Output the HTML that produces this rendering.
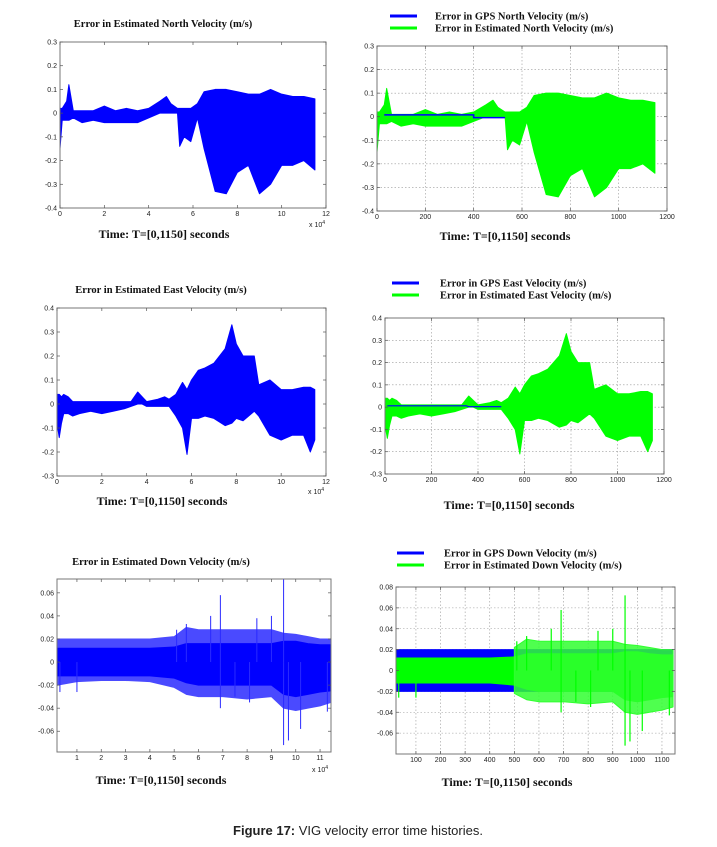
<!DOCTYPE html>
<html><head><meta charset="utf-8">
<style>
html,body{margin:0;padding:0;background:#fff;width:717px;height:847px;overflow:hidden}
svg{display:block}
.ttl{font-family:"Liberation Serif",serif;font-weight:bold;font-size:10.5px;fill:#111}
.xl{font-family:"Liberation Serif",serif;font-weight:bold;font-size:12px;fill:#111}
.tk{font-family:"Liberation Sans",sans-serif;font-size:7px;fill:#222}
.cap{font-family:"Liberation Sans",sans-serif;font-size:13px;fill:#222}
</style></head>
<body>
<svg id="fig" width="717" height="847" viewBox="0 0 717 847">
<text class="ttl" x="163" y="27" text-anchor="middle">Error in Estimated North Velocity (m/s)</text>
<text class="xl" x="164" y="238" text-anchor="middle">Time: T=[0,1150] seconds</text>
<text class="xl" x="505" y="240" text-anchor="middle">Time: T=[0,1150] seconds</text>
<text class="ttl" x="161" y="293" text-anchor="middle">Error in Estimated East Velocity (m/s)</text>
<text class="xl" x="162" y="505" text-anchor="middle">Time: T=[0,1150] seconds</text>
<text class="xl" x="509" y="509" text-anchor="middle">Time: T=[0,1150] seconds</text>
<text class="ttl" x="161" y="565" text-anchor="middle">Error in Estimated Down Velocity (m/s)</text>
<text class="xl" x="161" y="784" text-anchor="middle">Time: T=[0,1150] seconds</text>
<text class="xl" x="507" y="786" text-anchor="middle">Time: T=[0,1150] seconds</text>
<text class="cap" x="358" y="835" text-anchor="middle"><tspan font-weight="bold">Figure 17:</tspan> VIG velocity error time histories.</text>
</svg>
<script>
// ---- data ----
const northT = [0,0.1,0.3,0.4,0.6,1,1.5,2,2.5,3,3.5,4,4.5,4.8,5,5.3,5.4,5.6,5.9,6.2,6.5,7,7.5,8,8.5,9,9.5,10,10.5,11,11.5];
const northUpper = [0.02,0.02,0.05,0.12,0.01,0.01,0.01,0.03,0.01,0.02,0.01,0.02,0.05,0.07,0.04,0.02,0.02,0.02,0.02,0.04,0.09,0.1,0.1,0.09,0.08,0.08,0.1,0.08,0.07,0.07,0.06];
const northLower = [-0.15,-0.03,-0.03,-0.03,-0.02,-0.04,-0.03,-0.04,-0.04,-0.04,-0.04,-0.02,0,0,0,0,-0.14,-0.1,-0.12,-0.02,-0.15,-0.33,-0.34,-0.25,-0.22,-0.34,-0.3,-0.22,-0.22,-0.2,-0.24];
const northGpsT = [30,400,400,420,530];
const northGpsV = [0.008,0.008,-0.004,-0.004,-0.004];

const eastT = [0,0.1,0.2,0.3,0.5,0.7,1,1.5,2,2.5,3,3.3,3.6,3.8,4,4.5,4.8,5,5.3,5.6,5.8,6,6.3,6.6,7,7.5,7.8,8,8.3,8.8,9,9.5,10,10.5,11,11.3,11.5];
const eastUpper = [0.04,0.04,0.03,0.04,0.03,0.01,0.01,0.01,0.01,0.01,0.01,0.01,0.05,0.03,0.01,0.02,0.03,0.02,0.04,0.09,0.06,0.1,0.14,0.15,0.17,0.23,0.33,0.25,0.2,0.2,0.08,0.1,0.06,0.06,0.07,0.07,0.06];
const eastLower = [-0.08,-0.14,-0.08,-0.04,-0.04,-0.05,-0.04,-0.03,-0.04,-0.03,-0.02,-0.01,0,0,-0.01,-0.01,-0.01,-0.01,-0.05,-0.1,-0.21,-0.06,-0.06,-0.05,-0.06,-0.09,-0.08,-0.06,-0.07,-0.03,-0.05,-0.13,-0.15,-0.13,-0.13,-0.2,-0.15];
const eastGpsT = [10,350,360,500];
const eastGpsV = [0.006,0.006,0.002,0.002];

const downT = [0.2,1,2,3,4,5,5.5,6,7,8,9,9.5,10,10.5,11,11.45];
const downUpper = [0.02,0.02,0.02,0.02,0.02,0.022,0.03,0.028,0.028,0.028,0.028,0.025,0.024,0.022,0.02,0.02];
const downLower = [-0.02,-0.017,-0.016,-0.016,-0.017,-0.022,-0.028,-0.03,-0.03,-0.032,-0.03,-0.04,-0.042,-0.04,-0.038,-0.035];
const downCoreUpper = [0.012,0.012,0.012,0.012,0.012,0.013,0.016,0.016,0.016,0.016,0.016,0.018,0.018,0.016,0.015,0.015];
const downCoreLower = [-0.012,-0.012,-0.012,-0.012,-0.012,-0.014,-0.018,-0.02,-0.02,-0.02,-0.02,-0.028,-0.03,-0.028,-0.026,-0.025];
const downSpikeT = [0.3,1,5.1,5.5,6.5,6.9,6.9,7.5,8.1,8.4,9,9.5,9.5,9.7,10.2,11.3];
const downSpikeV = [-0.026,-0.026,0.028,0.033,0.04,0.058,-0.04,-0.03,-0.035,0.038,0.04,0.072,-0.072,-0.068,-0.058,-0.043];
const gpsDownUpper = 0.02;
const gpsDownLower = -0.02;

const tickNorthY = [-0.4,-0.3,-0.2,-0.1,0,0.1,0.2,0.3];
const tickEastY = [-0.3,-0.2,-0.1,0,0.1,0.2,0.3,0.4];
const tickDownY = [-0.06,-0.04,-0.02,0,0.02,0.04,0.06];
const tickDownY2 = [-0.06,-0.04,-0.02,0,0.02,0.04,0.06,0.08];
const tickX12 = [0,2,4,6,8,10,12];
const tickX1200 = [0,200,400,600,800,1000,1200];
const tickX11 = [1,2,3,4,5,6,7,8,9,10,11];
const tickX1100 = [100,200,300,400,500,600,700,800,900,1000,1100];

const NS = "http://www.w3.org/2000/svg";
const svg = document.getElementById('fig');
function mk(tag, attrs, parent){const e=document.createElementNS(NS,tag);for(const k in attrs)e.setAttribute(k,attrs[k]);(parent||svg).appendChild(e);return e;}
function lbl(v){return String(Math.round(v*1000)/1000);}

function panel(p){
  const g=mk('g',{});
  
  
  const sx=v=>p.x0+(v-p.xmin)/(p.xmax-p.xmin)*(p.x1-p.x0);
  const sy=v=>p.y1-(v-p.ymin)/(p.ymax-p.ymin)*(p.y1-p.y0);
  if(p.grid){
    p.xt.forEach(v=>{const x=sx(v);if(x>p.x0+1&&x<p.x1-1){const l=mk('line',{x1:x,x2:x,y1:p.y0,y2:p.y1,stroke:'#999','stroke-width':0.6,'stroke-dasharray':'1.5,2'},g);
      
      }});
    p.yt.forEach(v=>{const y=sy(v);if(y>p.y0+1&&y<p.y1-1){const l=mk('line',{x1:p.x0,x2:p.x1,y1:y,y2:y,stroke:'#999','stroke-width':0.6,'stroke-dasharray':'1.5,2'},g);
      
      }});
  }
  p.draw(g,sx,sy);
  const r=mk('rect',{x:p.x0,y:p.y0,width:p.x1-p.x0,height:p.y1-p.y0,fill:'none',stroke:'#777','stroke-width':1},g);
  
  
  p.xt.forEach(v=>{const x=sx(v);
    mk('line',{x1:x,x2:x,y1:p.y1,y2:p.y1-3,stroke:'#555','stroke-width':0.7},g);
    mk('line',{x1:x,x2:x,y1:p.y0,y2:p.y0+3,stroke:'#555','stroke-width':0.7},g);
    const t=mk('text',{x:x,y:p.y1+8,'text-anchor':'middle',class:'tk'},g);t.textContent=String(v);
    
    });
  p.yt.forEach(v=>{const y=sy(v);
    mk('line',{x1:p.x0,x2:p.x0+3,y1:y,y2:y,stroke:'#555','stroke-width':0.7},g);
    mk('line',{x1:p.x1,x2:p.x1-3,y1:y,y2:y,stroke:'#555','stroke-width':0.7},g);
    const t=mk('text',{x:p.x0-3,y:y+2.5,'text-anchor':'end',class:'tk'},g);t.textContent=lbl(v);
    
    });
  if(p.exp){const t=mk('text',{x:p.exp[0],y:p.exp[1],class:'tk'},g);t.innerHTML='x 10<tspan dy="-3" font-size="5">4</tspan>';
    
    }
}
function band(g,sx,sy,T,U,L,scale,color,name,op){
  let d='M'+T.map((t,i)=>sx(t*scale)+','+sy(U[i])).join(' L');
  for(let i=T.length-1;i>=0;i--)d+=' L'+sx(T[i]*scale)+','+sy(L[i]);
  const e=mk('path',{d:d+'Z',fill:color,stroke:color,'stroke-width':1,'fill-opacity':op||1,'stroke-linejoin':'round'},g);
  
  
}
function polyl(g,sx,sy,T,V,color,name,w){
  const e=mk('polyline',{points:T.map((t,i)=>sx(t)+','+sy(V[i])).join(' '),fill:'none',stroke:color,'stroke-width':w||1.5},g);
  
  
}
function spikes(g,sx,sy,scale,color,w){
  downSpikeT.forEach((t,i)=>{const e=mk('line',{x1:sx(t*scale),x2:sx(t*scale),y1:sy(0),y2:sy(downSpikeV[i]),stroke:color,'stroke-width':w||1},g);
    
    });
}
function legend(y,l1,l2,xl,xt){
  const a=mk('line',{x1:xl,x2:xl+27,y1:y,y2:y,stroke:'#0000ff','stroke-width':3});
  
  
  const b=mk('line',{x1:xl,x2:xl+27,y1:y+12,y2:y+12,stroke:'#00ff00','stroke-width':3});
  
  
  const t1=mk('text',{x:xt,y:y+3.5,class:'ttl'});t1.textContent=l1;
  
  
  const t2=mk('text',{x:xt,y:y+15.5,class:'ttl'});t2.textContent=l2;
  
  
}

panel({name:'north-velocity-chart',x0:60,x1:326,y0:42,y1:208,xmin:0,xmax:12,ymin:-0.4,ymax:0.3,xt:tickX12,yt:tickNorthY,exp:[309,227],
  draw:(g,sx,sy)=>band(g,sx,sy,northT,northUpper,northLower,1,'#0000ff','north-error-series')});
panel({name:'north-velocity-compare-chart',x0:377,x1:667,y0:46,y1:211,xmin:0,xmax:1200,ymin:-0.4,ymax:0.3,xt:tickX1200,yt:tickNorthY,grid:true,
  draw:(g,sx,sy)=>{band(g,sx,sy,northT,northUpper,northLower,100,'#00ff00','north-estimated-series');polyl(g,sx,sy,northGpsT,northGpsV,'#0000ff','north-gps-series');}});
legend(16,'Error in GPS North Velocity (m/s)','Error in Estimated North Velocity (m/s)',390,435);

panel({name:'east-velocity-chart',x0:57,x1:326,y0:308,y1:476,xmin:0,xmax:12,ymin:-0.3,ymax:0.4,xt:tickX12,yt:tickEastY,exp:[308,494],
  draw:(g,sx,sy)=>band(g,sx,sy,eastT,eastUpper,eastLower,1,'#0000ff','east-error-series')});
panel({name:'east-velocity-compare-chart',x0:385,x1:664,y0:318,y1:474,xmin:0,xmax:1200,ymin:-0.3,ymax:0.4,xt:tickX1200,yt:tickEastY,grid:true,
  draw:(g,sx,sy)=>{band(g,sx,sy,eastT,eastUpper,eastLower,100,'#00ff00','east-estimated-series');polyl(g,sx,sy,eastGpsT,eastGpsV,'#0000ff','east-gps-series',1.2);}});
legend(283,'Error in GPS East Velocity (m/s)','Error in Estimated East Velocity (m/s)',392,440);

panel({name:'down-velocity-chart',x0:57,x1:331,y0:579,y1:752,xmin:0.18,xmax:11.45,ymin:-0.078,ymax:0.072,xt:tickX11,yt:tickDownY,exp:[312,772],
  draw:(g,sx,sy)=>{band(g,sx,sy,downT,downUpper,downLower,1,'#4a4aff','down-error-outer-series');band(g,sx,sy,downT,downCoreUpper,downCoreLower,1,'#0000ff','down-error-series');spikes(g,sx,sy,1,'#2a2aff');}});
panel({name:'down-velocity-compare-chart',x0:396,x1:675,y0:587,y1:754,xmin:19,xmax:1153,ymin:-0.08,ymax:0.08,xt:tickX1100,yt:tickDownY2,grid:true,
  draw:(g,sx,sy)=>{
    const gt=[0.2,11.45],gu=[gpsDownUpper,gpsDownUpper],gl=[gpsDownLower,gpsDownLower];
    band(g,sx,sy,gt,gu,gl,100,'#0000ff','down-gps-series');
    band(g,sx,sy,downT,downCoreUpper,downCoreLower,100,'#00ff00','down-estimated-series');
    band(g,sx,sy,downT.slice(5),downUpper.slice(5),downLower.slice(5),100,'#30ff30','down-estimated-outer-series',0.85);
    spikes(g,sx,sy,100,'#00ff00',1.2);}});
legend(553,'Error in GPS Down Velocity (m/s)','Error in Estimated Down Velocity (m/s)',397,444);
</script>
</body></html>
